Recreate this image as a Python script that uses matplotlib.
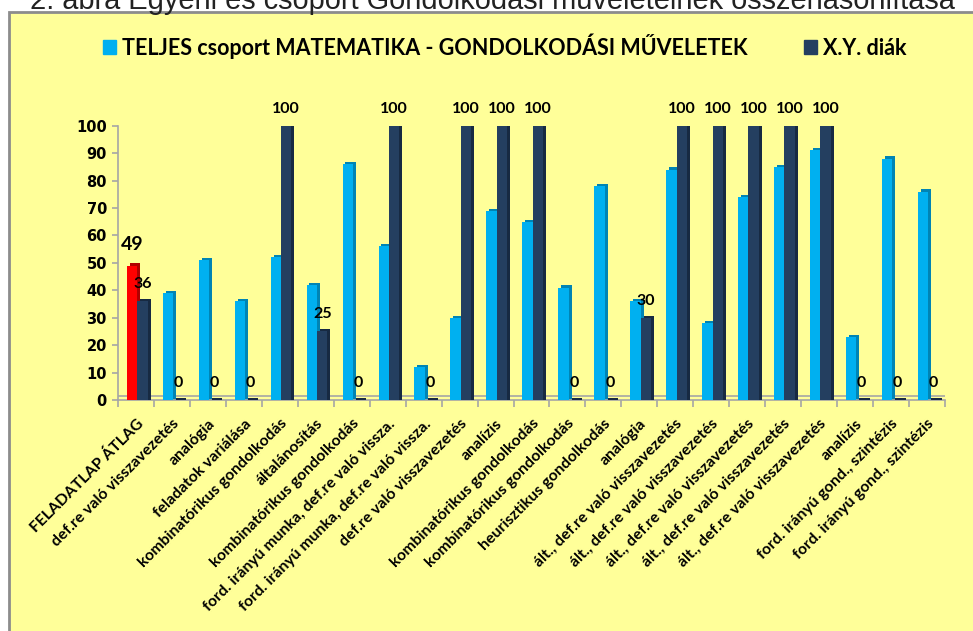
import numpy as np
import matplotlib
matplotlib.use("Agg")
import matplotlib.pyplot as plt
from matplotlib.patches import Rectangle, Patch

# data
categories = [
    "FELADATLAP ÁTLAG",
    "def.re való visszavezetés",
    "analógia",
    "feladatok variálása",
    "kombinatórikus gondolkodás",
    "általánosítás",
    "kombinatórikus gondolkodás",
    "ford. irányú munka, def.re való vissza.",
    "ford. irányú munka, def.re való vissza.",
    "def.re való visszavezetés",
    "analízis",
    "kombinatórikus gondolkodás",
    "kombinatórikus gondolkodás",
    "heurisztikus gondolkodás",
    "analógia",
    "ált., def.re való visszavezetés",
    "ált., def.re való visszavezetés",
    "ált., def.re való visszavezetés",
    "ált., def.re való visszavezetés",
    "ált., def.re való visszavezetés",
    "analízis",
    "ford. irányú gond., szintézis",
    "ford. irányú gond., szintézis",
]
group = [49, 39, 51, 36, 52, 42, 86, 56, 12, 30, 69, 65, 41, 78, 36, 84, 28, 74, 85, 91, 23, 88, 76]
student = [36, 0, 0, 0, 100, 25, 0, 100, 0, 100, 100, 100, 0, 0, 30, 100, 100, 100, 100, 100, 0, 0, 0]
yticks = list(range(0, 101, 10))

title = "2. ábra Egyéni és csoport Gondolkodási műveleteinek összehasonlítása"
legend_labels = ["TELJES csoport MATEMATIKA - GONDOLKODÁSI MŰVELETEK", "X.Y. diák"]

blue, blue_side = "#00B0F0", "#0084B4"
navy, navy_side = "#243F60", "#172A42"
red, red_side = "#FF0000", "#B00000"
bold_font = ["Lato", "DejaVu Sans"]

fig = plt.figure(figsize=(9.73, 6.31), dpi=100)
fig.patch.set_facecolor("white")

# yellow chart panel with grey border
panel = Rectangle((9 / 973, -0.05), 1.1, 1 - 12 / 631 + 0.05, transform=fig.transFigure,
                  facecolor="#FFFF99", edgecolor="#8C8C8C", lw=2, zorder=-5)
fig.patches.append(panel)

fig.text(30 / 973, 1 - 9 / 631, title, fontsize=20.9, family="Liberation Sans",
         va="baseline", ha="left", color="#222222")

ax = fig.add_axes([118 / 973, 1 - 400 / 631, 827 / 973, 274.3 / 631])
ax.set_facecolor("none")
ax.set_zorder(2)

x = np.arange(len(categories))
w = 0.29
d = 0.08
gcol = [red] + [blue] * (len(group) - 1)
gside = [red_side] + [blue_side] * (len(group) - 1)

ax.bar(x - 0.11 + d, np.array(group) + 0.8, w, color=gside, zorder=2)
ax.bar(x - 0.11, group, w, color=gcol, zorder=3)
ax.bar(x + 0.18 + d, np.array(student) + 0.8, w, color=navy_side, zorder=4)
ax.bar(x + 0.18, student, w, color=navy, zorder=5)

# value labels
for i, v in enumerate(student):
    ax.annotate(str(v), (x[i] + 0.18, v), xytext=(0, 9.5), textcoords="offset points",
                ha="center", va="baseline", fontsize=11.5, fontweight="bold",
                family=bold_font, zorder=6, annotation_clip=False)
ax.annotate(str(group[0]), (x[0] - 0.11, group[0]), xytext=(0, 11.5), textcoords="offset points",
            ha="center", va="baseline", fontsize=14, fontweight="bold",
            family=bold_font, zorder=6)

# floor
ax.axhline(1.5, color="#A6A6A6", lw=1.2, zorder=1)

ax.set_xlim(-0.5, len(categories) - 0.5)
ax.set_ylim(0, 100)
ax.set_yticks(yticks)
ax.set_yticklabels([str(t) for t in yticks], fontsize=10.5, fontweight="bold", family="DejaVu Sans")
ax.set_xticks(np.arange(len(categories) + 1) - 0.5)
ax.set_xticklabels([])
ax.set_xticks(x, minor=True)
ax.set_xticklabels(categories, minor=True, rotation=45, ha="right", rotation_mode="anchor",
                   fontsize=11.3, fontweight="bold", family=bold_font)
ax.tick_params(axis="x", which="minor", length=0, pad=12)
ax.tick_params(axis="x", which="major", length=5, color="#A6A6A6", width=1.2)
ax.tick_params(axis="y", length=4, color="#A6A6A6", width=1.2, pad=4)
for s in ["top", "right"]:
    ax.spines[s].set_visible(False)
for s in ["left", "bottom"]:
    ax.spines[s].set_color("#A6A6A6")
    ax.spines[s].set_linewidth(1.2)

handles = [Patch(color=blue), Patch(color=navy)]
fig.legend(handles, legend_labels, loc="center", bbox_to_anchor=(505 / 973, 1 - 46 / 631), ncol=2,
           frameon=False, prop={"family": bold_font, "weight": "bold", "size": 15.5},
           handlelength=0.6, handleheight=0.6, handletextpad=0.3, columnspacing=2.6)

fig.savefig("out.png", dpi=100)
